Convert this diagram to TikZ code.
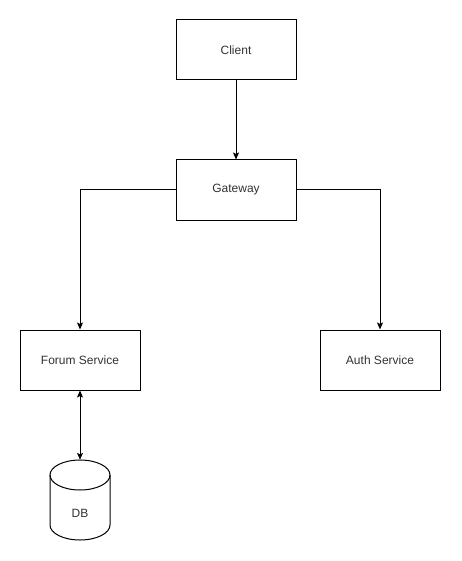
\documentclass[tikz,border=0pt]{standalone}
\usepackage{fontspec}
\setmainfont{Liberation Sans}
\usetikzlibrary{arrows.meta}
\begin{document}
\begin{tikzpicture}[x=1pt,y=-1pt,
  box/.style={draw, line width=1pt, minimum width=120pt, minimum height=60pt, inner sep=0pt, font=\fontsize{12}{14}\selectfont, text=black!80},
  conn/.style={line width=1pt, -{Stealth[length=7pt,width=6pt,inset=1.5pt]}},
  dconn/.style={line width=1pt, {Stealth[length=7pt,width=6pt,inset=1.5pt]}-{Stealth[length=7pt,width=6pt,inset=1.5pt]}}]
\useasboundingbox[fill=white] (0,0) rectangle (461,561);
\node[box] (client) at (236,50) {Client};
\node[box] (gateway) at (236,190) {Gateway};
\node[box] (forum) at (80,360) {Forum Service};
\node[box] (auth) at (380,360) {Auth Service};
\node[minimum width=60pt, minimum height=80pt, inner sep=0pt] (db) at (80,500) {};
\node[font=\fontsize{12}{14}\selectfont, text=black!80] (dblabel) at (80,513) {DB};
% cylinder
\draw[line width=1pt] (80,475) ellipse [x radius=30, y radius=15];
\draw[line width=1pt] (50,475) -- (50,525)
  arc[start angle=180, end angle=0, x radius=30, y radius=15]
  -- (110,475);
\draw[conn] (client) -- (gateway);
\draw[conn] (gateway.west) -| (forum.north);
\draw[conn] (gateway.east) -| (auth.north);
\draw[dconn] (forum.south) -- (db.north);
\end{tikzpicture}
\end{document}
